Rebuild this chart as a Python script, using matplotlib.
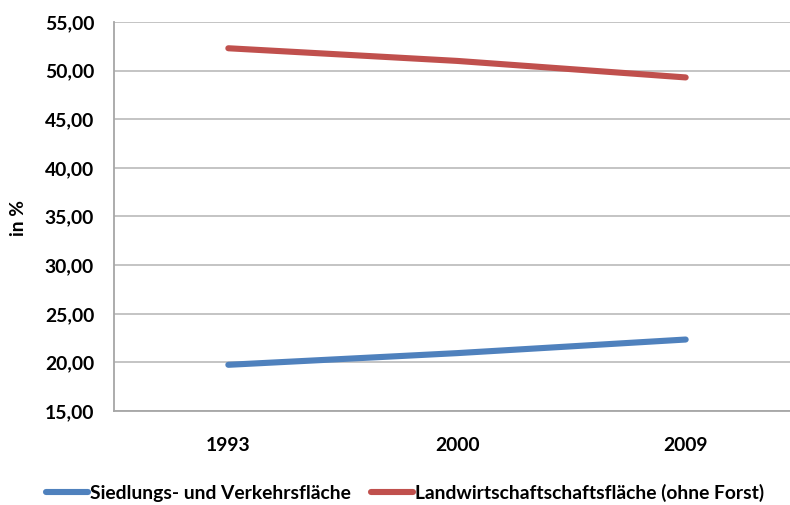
import matplotlib.pyplot as plt
from matplotlib.ticker import FuncFormatter

# land use shares, percent of total area
years = ["1993", "2000", "2009"]
siedlung = [19.75, 20.95, 22.35]
landwirtschaft = [52.3, 51.0, 49.3]
series_names = ["Siedlungs- und Verkehrsfläche",
                "Landwirtschaftschaftsfläche (ohne Forst)"]

plt.rcParams['font.family'] = ['Lato', 'DejaVu Sans']
plt.rcParams['font.weight'] = 'bold'
fs = 13.9

fig = plt.figure(figsize=(7.9, 5.05), dpi=100)
ax = fig.add_axes([114 / 790, 94 / 505, 686 / 790, 389 / 505])

x = range(len(years))
ax.plot(x, siedlung, color='#4F81BD', lw=4.4, solid_capstyle='round', label=series_names[0], zorder=3)
ax.plot(x, landwirtschaft, color='#C0504D', lw=4.4, solid_capstyle='round', label=series_names[1], zorder=3)

ax.set_xlim(-0.5, 2.5)
ax.set_ylim(15, 55)
ax.set_yticks(range(15, 56, 5))
ax.yaxis.set_major_formatter(FuncFormatter(lambda v, p: f"{v:.2f}".replace('.', ',')))
ax.set_xticks(list(x))
ax.set_xticklabels(years)
ax.tick_params(axis='both', length=0, labelsize=fs)
ax.tick_params(axis='y', pad=14.4)
ax.tick_params(axis='x', pad=19)
for t in ax.get_xticklabels() + ax.get_yticklabels():
    t.set_fontweight('bold')

ax.grid(axis='y', color='#BFBFBF', lw=1.3)
ax.set_axisbelow(True)
for s in ['top', 'right']:
    ax.spines[s].set_visible(False)
for s in ['left', 'bottom']:
    ax.spines[s].set_color('#A6A6A6')
    ax.spines[s].set_linewidth(1.3)

fig.text(18 / 790, 1 - 218 / 505, "in %", rotation=90, ha='center', va='center',
         fontsize=fs, fontweight='bold')

fig.legend(loc='center', bbox_to_anchor=(405 / 790, 12 / 505), ncol=2, frameon=False,
           handlelength=2.2, handletextpad=0.1, columnspacing=1.0,
           prop={'weight': 'bold', 'size': fs})

fig.savefig("out.png", dpi=100)
